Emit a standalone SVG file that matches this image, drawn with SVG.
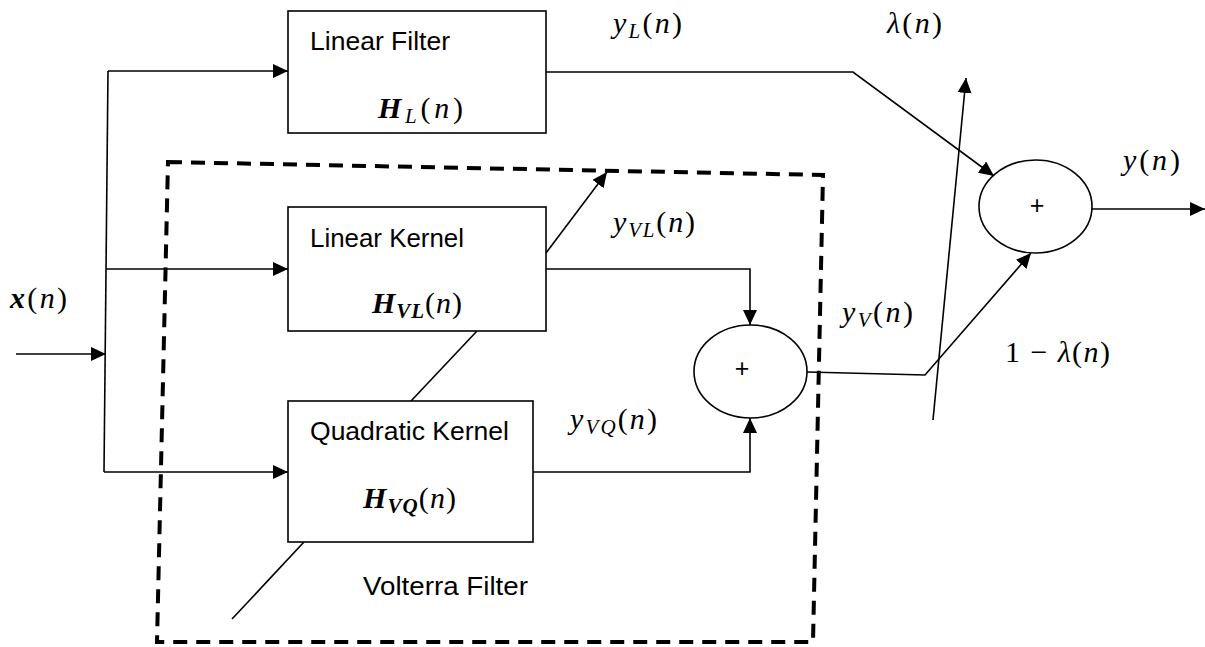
<svg xmlns="http://www.w3.org/2000/svg" width="1205" height="647" viewBox="0 0 1205 647">
<style>
.box{fill:#fff;stroke:#000;stroke-width:1.6}
.ell{fill:#fff;stroke:#000;stroke-width:1.6}
.ln{fill:none;stroke:#000;stroke-width:1.6}
.arr{fill:none;stroke:#000;stroke-width:1.6;marker-end:url(#ah)}
.dash{fill:none;stroke:#000;stroke-width:4;stroke-dasharray:14 9}
.lbl{font-family:"Liberation Sans",Arial,sans-serif;font-size:25px;fill:#000}
.m{font-family:"Liberation Serif","Times New Roman",serif;font-size:30px;fill:#000}
.i{font-style:italic}
.bi{font-style:italic;font-weight:bold}
.plus{font-family:"Liberation Sans",Arial,sans-serif;font-size:25px;fill:#000;text-anchor:middle}
</style>
<defs>
<marker id="ah" markerUnits="userSpaceOnUse" markerWidth="16" markerHeight="14" refX="15" refY="7" orient="auto">
<path d="M0,0 L15,7 L0,14 z" fill="#000"/>
</marker>
</defs>

<g id="volterra-boundary">
<path class="dash" d="M168,162 L823,175 L813,642 L157,642 Z"/>
<text class="lbl" x="363" y="595" textLength="165" lengthAdjust="spacingAndGlyphs">Volterra Filter</text>
</g>

<g id="connectors">
<path class="ln" d="M108,71 L104,472"/>
<path class="arr" d="M108,71 H288"/>
<path class="arr" d="M106,269 H288"/>
<path class="arr" d="M104,472 H288"/>
<path class="arr" d="M16,354 H106"/>
<path class="arr" d="M546,72 H853 L994,176"/>
<path class="arr" d="M546,253 L607,172"/>
<path class="arr" d="M546,269 H750 V325"/>
<path class="arr" d="M533,472 H750 V418"/>
<path class="arr" d="M807,372 L925,375 L1031,253"/>
<path class="arr" d="M933,420 L966,78"/>
<path class="arr" d="M1092,209 H1205"/>
<path class="ln" d="M477,331 L411,401"/>
<path class="ln" d="M304,542 L232,619"/>
</g>

<g id="linear-filter">
<rect class="box" x="288" y="11" width="258" height="122"/>
<text class="lbl" x="310" y="50" textLength="140" lengthAdjust="spacingAndGlyphs">Linear Filter</text>
<text class="m" x="378" y="118" textLength="85" lengthAdjust="spacing"><tspan class="bi">H</tspan><tspan class="i" font-size="21" dy="5">L</tspan><tspan dy="-5">(</tspan><tspan class="i">n</tspan>)</text>
</g>

<g id="linear-kernel">
<rect class="box" x="288" y="207" width="258" height="124"/>
<text class="lbl" x="310" y="247" textLength="154" lengthAdjust="spacingAndGlyphs">Linear Kernel</text>
<text class="m" x="372" y="313" textLength="90" lengthAdjust="spacing"><tspan class="bi">H</tspan><tspan class="bi" font-size="21" dy="5">VL</tspan><tspan dy="-5">(</tspan><tspan class="i">n</tspan>)</text>
</g>

<g id="quadratic-kernel">
<rect class="box" x="288" y="401" width="245" height="141"/>
<text class="lbl" x="310" y="440" textLength="199" lengthAdjust="spacingAndGlyphs">Quadratic Kernel</text>
<text class="m" x="363" y="508" textLength="93" lengthAdjust="spacing"><tspan class="bi">H</tspan><tspan class="bi" font-size="21" dy="5">VQ</tspan><tspan dy="-5">(</tspan><tspan class="i">n</tspan>)</text>
</g>

<g id="sum-volterra">
<ellipse class="ell" cx="750.5" cy="371.5" rx="56.5" ry="46.5"/>
<text class="plus" x="742" y="377">+</text>
</g>

<g id="sum-output">
<ellipse class="ell" cx="1035.5" cy="206.5" rx="56.5" ry="46.5"/>
<text class="plus" x="1037" y="214">+</text>
</g>

<g id="labels">
<text class="m" x="10" y="308" textLength="57" lengthAdjust="spacing"><tspan class="bi">x</tspan>(<tspan class="i">n</tspan>)</text>
<text class="m" x="613" y="33" textLength="69" lengthAdjust="spacing"><tspan class="i">y</tspan><tspan class="i" font-size="21" dy="5">L</tspan><tspan dy="-5">(</tspan><tspan class="i">n</tspan>)</text>
<text class="m" x="887" y="33" textLength="55" lengthAdjust="spacing"><tspan class="i">λ</tspan>(<tspan class="i">n</tspan>)</text>
<text class="m" x="1123" y="170" textLength="57" lengthAdjust="spacing"><tspan class="i">y</tspan>(<tspan class="i">n</tspan>)</text>
<text class="m" x="613" y="232" textLength="82" lengthAdjust="spacing"><tspan class="i">y</tspan><tspan class="i" font-size="21" dy="5">VL</tspan><tspan dy="-5">(</tspan><tspan class="i">n</tspan>)</text>
<text class="m" x="570" y="429" textLength="87" lengthAdjust="spacing"><tspan class="i">y</tspan><tspan class="i" font-size="21" dy="5">VQ</tspan><tspan dy="-5">(</tspan><tspan class="i">n</tspan>)</text>
<text class="m" x="842" y="322" textLength="71" lengthAdjust="spacing"><tspan class="i">y</tspan><tspan class="i" font-size="21" dy="5">V</tspan><tspan dy="-5">(</tspan><tspan class="i">n</tspan>)</text>
<text class="m" x="1005" y="362" textLength="105" lengthAdjust="spacing">1 − <tspan class="i">λ</tspan>(<tspan class="i">n</tspan>)</text>
</g>
</svg>
